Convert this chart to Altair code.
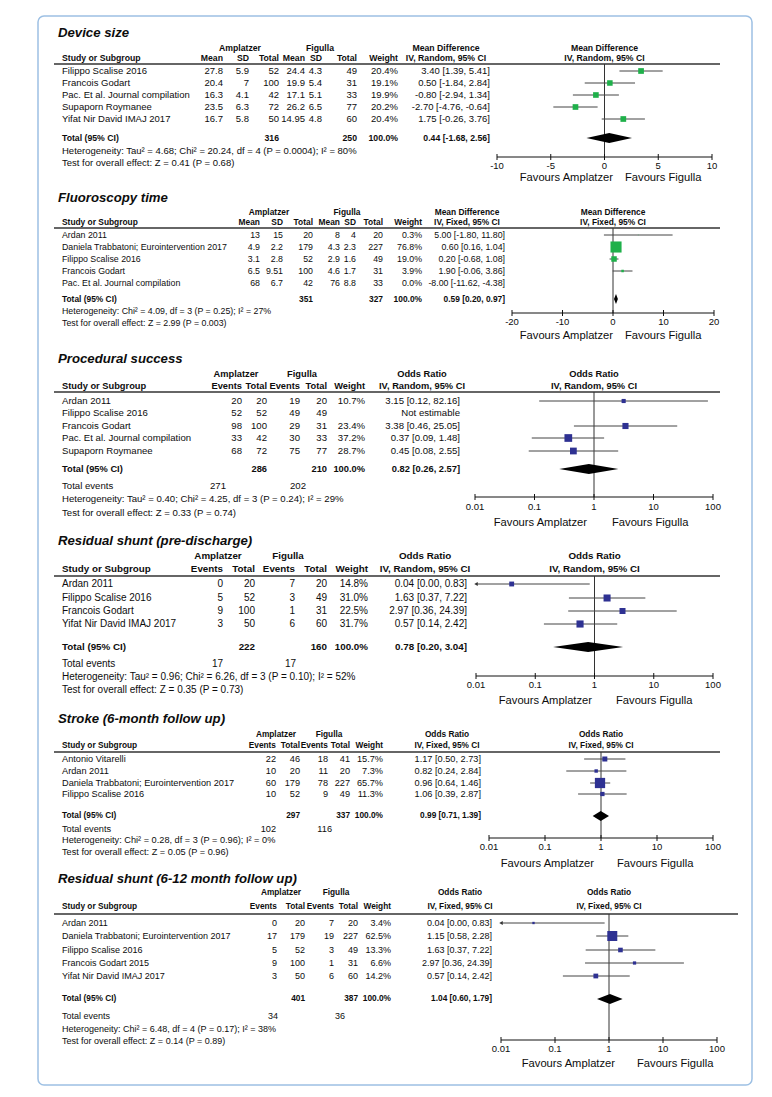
import altair as alt
import pandas as pd

FONT = "Liberation Sans"
TXT = "#0d0d0d"
GREEN = "#1fb04a"
BLUE = "#2e3192"

# ---------------- data ----------------
# Panel 1: Device size (mean difference, random)
p1_studies = ["Filippo Scalise 2016", "Francois Godart", "Pac. Et al. Journal compilation",
              "Supaporn Roymanee", "Yifat Nir David IMAJ 2017"]
p1_amp_mean = ["27.8", "20.4", "16.3", "23.5", "16.7"]
p1_amp_sd = ["5.9", "7", "4.1", "6.3", "5.8"]
p1_amp_n = ["52", "100", "42", "72", "50"]
p1_fig_mean = ["24.4", "19.9", "17.1", "26.2", "14.95"]
p1_fig_sd = ["4.3", "5.4", "5.1", "6.5", "4.8"]
p1_fig_n = ["49", "31", "33", "77", "60"]
p1_weight = [20.4, 19.1, 19.9, 20.2, 20.4]
p1_est = [3.40, 0.50, -0.80, -2.70, 1.75]
p1_lo = [1.39, -1.84, -2.94, -4.76, -0.26]
p1_hi = [5.41, 2.84, 1.34, -0.64, 3.76]
p1_total = [0.44, -1.68, 2.56]
p1_total_n = ["316", "250"]

# Panel 2: Fluoroscopy time (mean difference, fixed)
p2_studies = ["Ardan 2011", "Daniela Trabbatoni; Eurointervention 2017", "Filippo Scalise 2016",
              "Francois Godart", "Pac. Et al. Journal compilation"]
p2_amp_mean = ["13", "4.9", "3.1", "6.5", "68"]
p2_amp_sd = ["15", "2.2", "2.8", "9.51", "6.7"]
p2_amp_n = ["20", "179", "52", "100", "42"]
p2_fig_mean = ["8", "4.3", "2.9", "4.6", "76"]
p2_fig_sd = ["4", "2.3", "1.6", "1.7", "8.8"]
p2_fig_n = ["20", "227", "49", "31", "33"]
p2_weight = [0.3, 76.8, 19.0, 3.9, 0.0]
p2_est = [5.00, 0.60, 0.20, 1.90, -8.00]
p2_lo = [-1.80, 0.16, -0.68, -0.06, -11.62]
p2_hi = [11.80, 1.04, 1.08, 3.86, -4.38]
p2_total = [0.59, 0.20, 0.97]
p2_total_n = ["351", "327"]

# Panel 3: Procedural success (odds ratio, random)
p3_studies = ["Ardan 2011", "Filippo Scalise 2016", "Francois Godart",
              "Pac. Et al. Journal compilation", "Supaporn Roymanee"]
p3_amp_ev = [20, 52, 98, 33, 68]
p3_amp_n = [20, 52, 100, 42, 72]
p3_fig_ev = [19, 49, 29, 30, 75]
p3_fig_n = [20, 49, 31, 33, 77]
p3_weight = [10.7, None, 23.4, 37.2, 28.7]
p3_est = [3.15, None, 3.38, 0.37, 0.45]
p3_lo = [0.12, None, 0.46, 0.09, 0.08]
p3_hi = [82.16, None, 25.05, 1.48, 2.55]
p3_total = [0.82, 0.26, 2.57]
p3_total_n = ["286", "210"]
p3_total_ev = ["271", "202"]

# Panel 4: Residual shunt (pre-discharge)
p4_studies = ["Ardan 2011", "Filippo Scalise 2016", "Francois Godart", "Yifat Nir David IMAJ 2017"]
p4_amp_ev = [0, 5, 9, 3]
p4_amp_n = [20, 52, 100, 50]
p4_fig_ev = [7, 3, 1, 6]
p4_fig_n = [20, 49, 31, 60]
p4_weight = [14.8, 31.0, 22.5, 31.7]
p4_est = [0.04, 1.63, 2.97, 0.57]
p4_lo = [0.00, 0.37, 0.36, 0.14]
p4_hi = [0.83, 7.22, 24.39, 2.42]
p4_total = [0.78, 0.20, 3.04]
p4_total_n = ["222", "160"]
p4_total_ev = ["17", "17"]

# Panel 5: Stroke (6-month follow up)
p5_studies = ["Antonio Vitarelli", "Ardan 2011", "Daniela Trabbatoni; Eurointervention 2017",
              "Filippo Scalise 2016"]
p5_amp_ev = [22, 10, 60, 10]
p5_amp_n = [46, 20, 179, 52]
p5_fig_ev = [18, 11, 78, 9]
p5_fig_n = [41, 20, 227, 49]
p5_weight = [15.7, 7.3, 65.7, 11.3]
p5_est = [1.17, 0.82, 0.96, 1.06]
p5_lo = [0.50, 0.24, 0.64, 0.39]
p5_hi = [2.73, 2.84, 1.46, 2.87]
p5_total = [0.99, 0.71, 1.39]
p5_total_n = ["297", "337"]
p5_total_ev = ["102", "116"]

# Panel 6: Residual shunt (6-12 month follow up)
p6_studies = ["Ardan 2011", "Daniela Trabbatoni; Eurointervention 2017", "Filippo Scalise 2016",
              "Francois Godart 2015", "Yifat Nir David IMAJ 2017"]
p6_amp_ev = [0, 17, 5, 9, 3]
p6_amp_n = [20, 179, 52, 100, 50]
p6_fig_ev = [7, 19, 3, 1, 6]
p6_fig_n = [20, 227, 49, 31, 60]
p6_weight = [3.4, 62.5, 13.3, 6.6, 14.2]
p6_est = [0.04, 1.15, 1.63, 2.97, 0.57]
p6_lo = [0.00, 0.58, 0.37, 0.36, 0.14]
p6_hi = [0.83, 2.28, 7.22, 24.39, 2.42]
p6_total = [1.04, 0.60, 1.79]
p6_total_n = ["401", "387"]
p6_total_ev = ["34", "36"]

lin_ticks_10 = [-10, -5, 0, 5, 10]
lin_ticks_20 = [-20, -10, 0, 10, 20]
log_ticks = [0.01, 0.1, 1, 10, 100]
log_labels = ["0.01", "0.1", "1", "10", "100"]

panels = [
    dict(title="Device size", kind="md", effect="Mean Difference", method="IV, Random, 95% CI",
         studies=p1_studies, cols=[p1_amp_mean, p1_amp_sd, p1_amp_n, p1_fig_mean, p1_fig_sd, p1_fig_n],
         weight=p1_weight, est=p1_est, lo=p1_lo, hi=p1_hi, total=p1_total, total_n=p1_total_n, total_ev=None,
         het="Heterogeneity: Tau\u00b2 = 4.68; Chi\u00b2 = 20.24, df = 4 (P = 0.0004); I\u00b2 = 80%",
         test="Test for overall effect: Z = 0.41 (P = 0.68)",
         color=GREEN, log=False, domain=[-10, 10], ticks=lin_ticks_10, tick_labels=[str(t) for t in lin_ticks_10]),
    dict(title="Fluoroscopy time", kind="md", effect="Mean Difference", method="IV, Fixed, 95% CI",
         studies=p2_studies, cols=[p2_amp_mean, p2_amp_sd, p2_amp_n, p2_fig_mean, p2_fig_sd, p2_fig_n],
         weight=p2_weight, est=p2_est, lo=p2_lo, hi=p2_hi, total=p2_total, total_n=p2_total_n, total_ev=None,
         het="Heterogeneity: Chi\u00b2 = 4.09, df = 3 (P = 0.25); I\u00b2 = 27%",
         test="Test for overall effect: Z = 2.99 (P = 0.003)",
         color=GREEN, log=False, domain=[-20, 20], ticks=lin_ticks_20, tick_labels=[str(t) for t in lin_ticks_20]),
    dict(title="Procedural success", kind="or", effect="Odds Ratio", method="IV, Random, 95% CI",
         studies=p3_studies, cols=[p3_amp_ev, p3_amp_n, p3_fig_ev, p3_fig_n],
         weight=p3_weight, est=p3_est, lo=p3_lo, hi=p3_hi, total=p3_total, total_n=p3_total_n, total_ev=p3_total_ev,
         het="Heterogeneity: Tau\u00b2 = 0.40; Chi\u00b2 = 4.25, df = 3 (P = 0.24); I\u00b2 = 29%",
         test="Test for overall effect: Z = 0.33 (P = 0.74)",
         color=BLUE, log=True, domain=[0.01, 100], ticks=log_ticks, tick_labels=log_labels),
    dict(title="Residual shunt (pre-discharge)", kind="or", effect="Odds Ratio", method="IV, Random, 95% CI",
         studies=p4_studies, cols=[p4_amp_ev, p4_amp_n, p4_fig_ev, p4_fig_n],
         weight=p4_weight, est=p4_est, lo=p4_lo, hi=p4_hi, total=p4_total, total_n=p4_total_n, total_ev=p4_total_ev,
         het="Heterogeneity: Tau\u00b2 = 0.96; Chi\u00b2 = 6.26, df = 3 (P = 0.10); I\u00b2 = 52%",
         test="Test for overall effect: Z = 0.35 (P = 0.73)",
         color=BLUE, log=True, domain=[0.01, 100], ticks=log_ticks, tick_labels=log_labels),
    dict(title="Stroke (6-month follow up)", kind="or", effect="Odds Ratio", method="IV, Fixed, 95% CI",
         studies=p5_studies, cols=[p5_amp_ev, p5_amp_n, p5_fig_ev, p5_fig_n],
         weight=p5_weight, est=p5_est, lo=p5_lo, hi=p5_hi, total=p5_total, total_n=p5_total_n, total_ev=p5_total_ev,
         het="Heterogeneity: Chi\u00b2 = 0.28, df = 3 (P = 0.96); I\u00b2 = 0%",
         test="Test for overall effect: Z = 0.05 (P = 0.96)",
         color=BLUE, log=True, domain=[0.01, 100], ticks=log_ticks, tick_labels=log_labels),
    dict(title="Residual shunt (6-12 month follow up)", kind="or", effect="Odds Ratio", method="IV, Fixed, 95% CI",
         studies=p6_studies, cols=[p6_amp_ev, p6_amp_n, p6_fig_ev, p6_fig_n],
         weight=p6_weight, est=p6_est, lo=p6_lo, hi=p6_hi, total=p6_total, total_n=p6_total_n, total_ev=p6_total_ev,
         het="Heterogeneity: Chi\u00b2 = 6.48, df = 4 (P = 0.17); I\u00b2 = 38%",
         test="Test for overall effect: Z = 0.14 (P = 0.89)",
         color=BLUE, log=True, domain=[0.01, 100], ticks=log_ticks, tick_labels=log_labels),
]

# ---------------- layout (page pixels) ----------------
layouts = [
    dict(title_y=33, h1=48, h2=58, line_y=64, line_x2=720, rows=[71, 83, 95, 107, 119], total_y=138,
         ev_y=None, het_y=151, test_y=163, cols=[223, 249, 279, 305, 322, 357, 398, 490],
         amp_c=240, fig_c=320, eff_c=446, ev_x=None, fx=[497, 712], axis_y=157, tick_y=166,
         fav_y=178, fav_amp=613, fav_fig=625, fs=9.5, hfs=8.7),
    dict(title_y=198, h1=212, h2=222, line_y=228, line_x2=720, rows=[235, 247, 259, 271, 283], total_y=299,
         ev_y=None, het_y=311, test_y=323, cols=[260, 283, 313, 340, 356, 383, 422, 505],
         amp_c=269, fig_c=347, eff_c=467, ev_x=None, fx=[512, 714], axis_y=313, tick_y=322,
         fav_y=336, fav_amp=613, fav_fig=625, fs=8.8, hfs=8.4),
    dict(title_y=359, h1=374, h2=386, line_y=392, line_x2=720, rows=[401, 413, 426, 438, 451], total_y=469,
         ev_y=486, het_y=499, test_y=513, cols=[242, 267, 300, 327, 365, 460],
         amp_c=236, fig_c=302, eff_c=422, ev_x=[226, 306], fx=[475, 713], axis_y=497, tick_y=507,
         fav_y=523, fav_amp=587, fav_fig=612, fs=9.6, hfs=9.3),
    dict(title_y=541, h1=556, h2=569, line_y=576, line_x2=720, rows=[584, 598, 611, 624], total_y=647,
         ev_y=664, het_y=677, test_y=690, cols=[223, 255, 295, 327, 368, 467],
         amp_c=218, fig_c=288, eff_c=425, ev_x=[223, 296], fx=[476, 713], axis_y=676, tick_y=685,
         fav_y=701, fav_amp=592, fav_fig=616, fs=10.0, hfs=9.8),
    dict(title_y=719, h1=735, h2=746, line_y=752, line_x2=720, rows=[759, 771, 783, 794], total_y=816,
         ev_y=829, het_y=840, test_y=852, cols=[276, 300, 328, 350, 383, 481],
         amp_c=276, fig_c=329, eff_c=447, ev_x=[276, 332], fx=[489, 713], axis_y=838, tick_y=847,
         fav_y=864, fav_amp=594, fav_fig=617, fs=9.2, hfs=8.3),
    dict(title_y=879, h1=893, h2=907, line_y=914, line_x2=738, rows=[923, 936, 950, 963, 976], total_y=999,
         ev_y=1016, het_y=1029, test_y=1041, cols=[277, 305, 334, 358, 391, 492],
         amp_c=281, fig_c=336, eff_c=460, ev_x=[278, 345], fx=[501, 717], axis_y=1040, tick_y=1049,
         fav_y=1064, fav_amp=615, fav_fig=637, fs=9.0, hfs=8.3),
]

X0, X1 = 38, 752
Y0, Y1 = 16, 1085
W, H = X1 - X0, Y1 - Y0
TITLE_FS = 13.2
FAV_FS = 11.2
TICK_FS = 9.5
NAME_X = 62
TITLE_X = 58
LINE_X1 = 54
DIAMOND_HALF = 5
TICK_HALF = 3

xs_table = alt.Scale(domain=[X0, X1], range=[0, W], nice=False, zero=False)
ys = alt.Scale(domain=[Y0, Y1], range=[0, H], nice=False, zero=False)
size_scale = alt.Scale(domain=[0, 100], range=[0, 160])


def ci_text(e, l, h):
    if e is None:
        return "Not estimable"
    return f"{e:.2f} [{l:.2f}, {h:.2f}]"


texts = []
rules = []


def add(lst, x, y, text, size, weight="normal", style="normal", align="left"):
    if text == "":
        return
    lst.append(dict(x=x, y=y, text=text, size=float(size), weight=weight, style=style, align=align))


def text_layers(df, xscale):
    out = []
    for (wt, st, al, sz), g in df.groupby(["weight", "style", "align", "size"]):
        out.append(
            alt.Chart(g.reset_index(drop=True)).mark_text(
                font=FONT, fontWeight=wt, fontStyle=st, align=al, baseline="middle",
                fontSize=float(sz), color=TXT
            ).encode(
                x=alt.X("x:Q", scale=xscale, axis=None),
                y=alt.Y("y:Q", scale=ys, axis=None),
                text="text:N",
            )
        )
    return out


forest_groups = []
for p, L in zip(panels, layouts):
    fs, hfs = L["fs"], L["hfs"]
    md = p["kind"] == "md"
    add(texts, TITLE_X, L["title_y"], p["title"], TITLE_FS, "bold", "italic")
    add(texts, L["amp_c"], L["h1"], "Amplatzer", hfs, "bold", align="center")
    add(texts, L["fig_c"], L["h1"], "Figulla", hfs, "bold", align="center")
    add(texts, L["eff_c"], L["h1"], p["effect"], hfs, "bold", align="center")
    add(texts, NAME_X, L["h2"], "Study or Subgroup", hfs, "bold")
    heads = (["Mean", "SD", "Total"] * 2 if md else ["Events", "Total"] * 2) + ["Weight"]
    for hx, ht in zip(L["cols"][:-1], heads):
        add(texts, hx, L["h2"], ht, hfs, "bold", align="right")
    add(texts, L["eff_c"], L["h2"], p["method"], hfs, "bold", align="center")
    rules.append(dict(x=LINE_X1, x2=L["line_x2"], y=L["line_y"]))

    for i, s in enumerate(p["studies"]):
        y = L["rows"][i]
        add(texts, NAME_X, y, s, fs)
        for cx, col in zip(L["cols"][:-2], p["cols"]):
            add(texts, cx, y, str(col[i]), fs, align="right")
        w = p["weight"][i]
        add(texts, L["cols"][-2], y, "" if w is None else f"{w:.1f}%", fs, align="right")
        add(texts, L["cols"][-1], y, ci_text(p["est"][i], p["lo"][i], p["hi"][i]), fs, align="right")

    add(texts, NAME_X, L["total_y"], "Total (95% CI)", hfs, "bold")
    n_idx = [2, 5] if md else [1, 3]
    for k, v in zip(n_idx, p["total_n"]):
        add(texts, L["cols"][k], L["total_y"], v, hfs, "bold", align="right")
    add(texts, L["cols"][-2], L["total_y"], "100.0%", hfs, "bold", align="right")
    add(texts, L["cols"][-1], L["total_y"], ci_text(*p["total"]), hfs, "bold", align="right")
    if p["total_ev"] is not None:
        add(texts, NAME_X, L["ev_y"], "Total events", fs)
        for ex, v in zip(L["ev_x"], p["total_ev"]):
            add(texts, ex, L["ev_y"], v, fs, align="right")
    add(texts, NAME_X, L["het_y"], p["het"], fs)
    add(texts, NAME_X, L["test_y"], p["test"], fs)
    add(texts, L["fav_amp"], L["fav_y"], "Favours Amplatzer", FAV_FS, align="right")
    add(texts, L["fav_fig"], L["fav_y"], "Favours Figulla", FAV_FS, align="left")

    # ---------- forest plot for this panel ----------
    dmin, dmax = p["domain"]
    fscale = alt.Scale(type="log" if p["log"] else "linear", domain=[dmin, dmax],
                       range=[L["fx"][0] - X0, L["fx"][1] - X0], nice=False, zero=False)
    null_v = 1 if p["log"] else 0
    center_v = 1 if p["log"] else (dmin + dmax) / 2
    fx = alt.X("x:Q", scale=fscale, axis=None)
    fy = alt.Y("y:Q", scale=ys, axis=None)

    ci_rows, sq_rows, arrow_rows = [], [], []
    for i in range(len(p["studies"])):
        w = p["weight"][i]
        if w is None or w <= 0:
            continue
        y = L["rows"][i]
        lo, hi = p["lo"][i], p["hi"][i]
        ci_rows.append(dict(x=max(lo, dmin), x2=min(hi, dmax), y=y))
        sq_rows.append(dict(x=p["est"][i], y=y, w=w))
        if lo < dmin:
            arrow_rows.append(dict(x=dmin, y=y))
    te, tl, th = p["total"]
    yc = L["total_y"]
    dia = pd.DataFrame([dict(x=tl, y=yc, y2=yc), dict(x=te, y=yc - DIAMOND_HALF, y2=yc + DIAMOND_HALF),
                        dict(x=th, y=yc, y2=yc)])

    layers = [
        alt.Chart(pd.DataFrame([dict(x=null_v, y=L["line_y"], y2=L["axis_y"])])).mark_rule(
            color="#333333", strokeWidth=1).encode(x=fx, y=fy, y2="y2:Q"),
        alt.Chart(pd.DataFrame(ci_rows)).mark_rule(color="#444444", strokeWidth=1).encode(
            x=fx, x2="x2:Q", y=fy),
        alt.Chart(pd.DataFrame(sq_rows)).mark_square(color=p["color"], opacity=1).encode(
            x=fx, y=fy, size=alt.Size("w:Q", scale=size_scale, legend=None)),
        alt.Chart(dia).mark_area(orient="vertical", color="black", opacity=1).encode(
            x=fx, y=fy, y2="y2:Q"),
        alt.Chart(pd.DataFrame([dict(x=dmin, x2=dmax, y=L["axis_y"])])).mark_rule(
            color="#111111", strokeWidth=1).encode(x=fx, x2="x2:Q", y=fy),
        alt.Chart(pd.DataFrame([dict(x=t, y=L["axis_y"] - TICK_HALF, y2=L["axis_y"] + TICK_HALF)
                                for t in p["ticks"]])).mark_rule(color="#111111", strokeWidth=1).encode(
            x=fx, y=fy, y2="y2:Q"),
    ]
    if arrow_rows:
        layers.append(alt.Chart(pd.DataFrame(arrow_rows)).mark_point(
            shape="triangle-left", filled=True, size=16, color="#333333", opacity=1).encode(x=fx, y=fy))
    ftexts = []
    for t, lab in zip(p["ticks"], p["tick_labels"]):
        add(ftexts, t, L["tick_y"], lab, TICK_FS, align="center")
    add(ftexts, center_v, L["h1"], p["effect"], hfs, "bold", align="center")
    add(ftexts, center_v, L["h2"], p["method"], hfs, "bold", align="center")
    layers += text_layers(pd.DataFrame(ftexts), fscale)
    forest_groups.append(alt.layer(*layers))

table_layers = [
    alt.Chart(pd.DataFrame(rules)).mark_rule(color="#333333", strokeWidth=1.3).encode(
        x=alt.X("x:Q", scale=xs_table, axis=None), x2="x2:Q", y=alt.Y("y:Q", scale=ys, axis=None))
] + text_layers(pd.DataFrame(texts), xs_table)

table_group = alt.layer(*table_layers)

chart = alt.layer(table_group, *forest_groups).resolve_scale(x="independent").properties(
    width=W, height=H, padding={"left": 30, "top": 8, "right": 12, "bottom": 4}, background="white"
).configure_view(stroke="#9dc0e4", strokeWidth=1.5, cornerRadius=6)

chart.save("out.html", embed_options={"renderer": "svg", "actions": False})
